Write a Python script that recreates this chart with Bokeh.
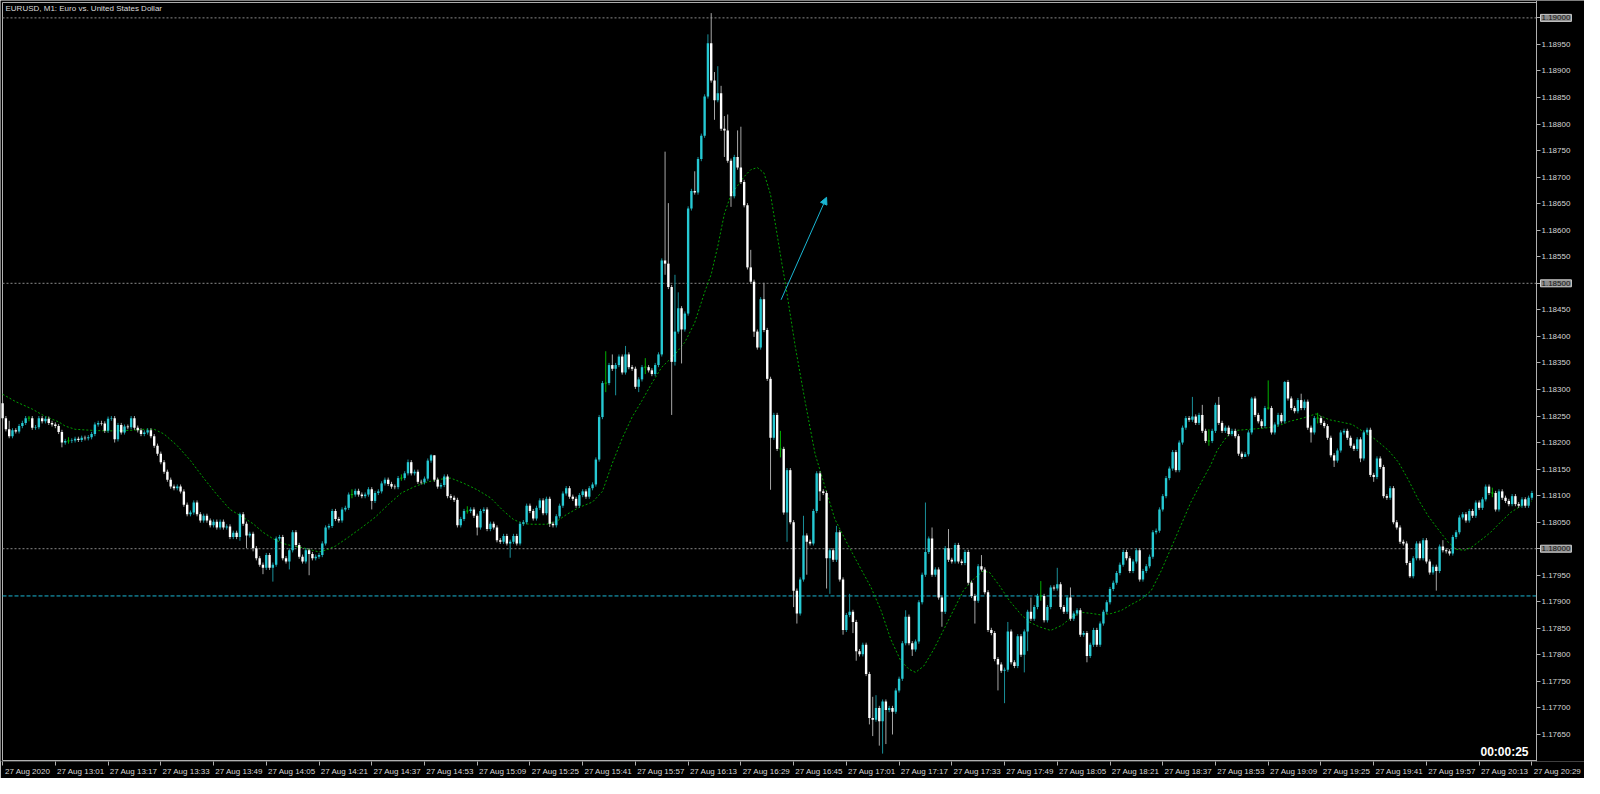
from bokeh.plotting import figure
from bokeh.models import (Range1d, FixedTicker, PrintfTickFormatter, Label, LinearAxis,
                          Arrow, NormalHead, ColumnDataSource)
from bokeh.embed import file_html
from bokeh.resources import INLINE

# ---------------- data ----------------
symbol_title = "EURUSD, M1:  Euro vs. United States Dollar"
timer_text = "00:00:25"

PRICE_BASE = 1.17000   # prices below are in points (0.00001) above this base
POINT = 0.00001

first_open = 1274
# closes, one per M1 bar, bar 0 = 12:45
closes_1245 = [1246, 1225, 1212, 1223, 1221, 1231, 1237, 1246, 1246, 1228,
               1229, 1246, 1240, 1245, 1237, 1234, 1231, 1220, 1200, 1203,
               1203, 1204, 1207, 1205, 1209, 1208, 1210, 1216, 1234, 1237,
               1236, 1222, 1245, 1246, 1206, 1233, 1219, 1230, 1229, 1246,
               1228, 1223, 1216, 1219, 1223, 1212, 1194, 1179, 1163, 1145,
               1130, 1117, 1114, 1117, 1108, 1083, 1065, 1068, 1087, 1065,
               1053, 1062, 1053, 1044, 1051, 1040, 1051, 1040, 1042, 1022,
               1030, 1022, 1065, 1047, 1025, 1028, 1001]
closes_1402 = [982, 970, 964, 988, 964, 970, 1019, 1022, 982, 976,
               997, 1031, 1007, 985, 976, 997, 990, 982, 985, 988,
               1010, 1040, 1043, 1071, 1056, 1053, 1074, 1077, 1102, 1102,
               1109, 1102, 1099, 1102, 1112, 1090, 1105, 1108, 1123, 1130,
               1122, 1117, 1116, 1133, 1133, 1142, 1163, 1142, 1145, 1126,
               1125, 1132, 1166, 1176, 1130, 1117, 1120, 1136, 1099, 1096,
               1092, 1044, 1056, 1071, 1071, 1074, 1062, 1040, 1071, 1074,
               1037, 1047, 1040, 1016, 1013, 1024, 1010, 1013, 1024]
closes_1541 = [1010, 1047, 1050, 1081, 1071, 1057, 1077, 1091, 1067, 1094,
               1047, 1044, 1061, 1081, 1104, 1114, 1098, 1094, 1081, 1101,
               1108, 1098, 1114, 1121, 1168, 1248, 1312, 1312, 1346, 1339,
               1346, 1362, 1332, 1366, 1342, 1339, 1305, 1319, 1342, 1342,
               1336, 1329, 1346, 1366, 1543, 1537, 1493, 1352, 1409, 1453,
               1413, 1443, 1641, 1674, 1671, 1734, 1778, 1852, 1952, 1882,
               1845, 1858, 1791, 1788, 1731, 1664, 1738, 1718, 1691, 1647,
               1530, 1503, 1409, 1379, 1470]
closes_1656 = [1412, 1320, 1209, 1252, 1188, 1188, 1068, 1148, 1050, 921,
               878, 942, 1025, 1013, 1010, 1071, 1142, 1108, 1105, 982,
               997, 979, 1031, 942, 847, 875, 881, 862, 807, 801,
               819, 764, 681, 678, 700, 675, 712, 696, 700, 693,
               733, 755, 822, 872, 822, 810, 825, 899, 951, 994,
               1019, 951, 961, 908, 881, 1001, 979, 976, 1007, 976,
               973, 994, 936, 911, 902, 967, 961, 918, 847, 841,
               792, 782, 770, 772, 844, 786, 779, 835, 800]
closes_1815 = [844, 881, 868, 890, 911, 911, 865, 890, 927, 925,
               933, 890, 881, 908, 868, 878, 884, 838, 841, 798,
               819, 847, 819, 859, 881, 899, 924, 936, 954, 970,
               994, 982, 958, 976, 997, 942, 958, 967, 985, 1031,
               1034, 1074, 1099, 1133, 1151, 1182, 1148, 1200, 1228, 1246,
               1243, 1249, 1237, 1252, 1222, 1203, 1203, 1222, 1271, 1237,
               1222, 1228, 1216, 1222, 1212, 1179, 1173, 1178, 1219, 1283,
               1252, 1240, 1231, 1265, 1265, 1219, 1234, 1252]
closes_1933 = [1240, 1314, 1283, 1265, 1259, 1280, 1265, 1277, 1228, 1219,
               1246, 1246, 1237, 1231, 1209, 1176, 1166, 1185, 1219, 1222,
               1209, 1194, 1188, 1206, 1170, 1219, 1224, 1139, 1135, 1170,
               1154, 1099, 1096, 1114, 1050, 1040, 1013, 1010, 973, 948,
               982, 1010, 982, 1016, 976, 955, 966, 958, 1004, 997,
               995, 991, 1022, 1031, 1059, 1065, 1053, 1071, 1062, 1087,
               1077, 1093, 1117, 1105, 1105, 1074, 1108, 1096, 1090, 1084,
               1099, 1084, 1081, 1093, 1081, 1096, 1105]

# wick extremes that stand out (bar index -> points)
highs_read = {0: 1280, 2: 1241, 8: 1250, 20: 1210, 34: 1250, 72: 1068, 88: 1035,
              106: 1112, 121: 1140, 123: 1168, 130: 1178, 131: 1174, 141: 1080,
              183: 1372, 185: 1366, 189: 1382, 195: 1359, 201: 1748, 202: 1651,
              204: 1516, 205: 1483, 210: 1711, 214: 1969, 215: 2009, 216: 1898,
              217: 1909, 218: 1872, 219: 1815, 220: 1818, 223: 1788, 224: 1795,
              227: 1563, 231: 1501, 236: 1222, 243: 1062, 253: 1043, 257: 915,
              264: 721, 265: 724, 274: 884, 280: 1087, 282: 1040, 287: 1037,
              297: 988, 305: 862, 312: 908, 315: 939, 320: 964, 324: 927,
              361: 1286, 364: 1271, 366: 1225, 369: 1286, 379: 1286, 384: 1317,
              389: 1316, 394: 1292, 399: 1256, 437: 1016, 452: 1115}
lows_read = {0: 1240, 8: 1240, 18: 1191, 20: 1198, 34: 1200, 72: 1015, 74: 1001,
             76: 995, 79: 952, 82: 938, 87: 961, 93: 950, 106: 1095, 112: 1074,
             121: 1128, 141: 1066, 144: 1025, 154: 983, 166: 1041, 183: 1295,
             186: 1289, 193: 1295, 195: 1329, 201: 1516, 203: 1252, 204: 1345,
             206: 1349, 216: 1808, 219: 1738, 221: 1644, 228: 1399, 233: 1111,
             236: 1172, 238: 1013, 240: 890, 241: 859, 244: 951, 248: 1090,
             250: 925, 251: 915, 255: 838, 258: 841, 259: 789, 263: 669, 264: 647,
             266: 629, 267: 614, 268: 632, 270: 650, 276: 798, 285: 853, 295: 859,
             302: 733, 304: 709, 310: 767, 311: 807, 315: 902, 329: 786, 366: 1194,
             377: 1173, 384: 1262, 397: 1200, 399: 1236, 404: 1154, 412: 1163,
             416: 1126, 427: 945, 435: 921, 452: 1097}
WICK_PTS = 4   # ordinary small wick beyond the body

# moving average (green dotted): bar index, points
ma_bar = [0, 4, 9, 13, 17, 19, 22, 27, 31, 35, 39, 43, 46, 49, 53, 57, 61, 65, 69, 73,
          76, 79, 82, 85, 88, 91, 94, 96, 98, 101, 105, 109, 113, 117, 121, 125, 129,
          133, 136, 140, 144, 148, 152, 155, 158, 161, 165, 168, 171, 175, 179, 182,
          185, 188, 191, 194, 197, 200, 204, 207, 210, 213, 215, 217, 219, 221, 223,
          225, 227, 229, 231, 233, 236.5, 237.5, 240.5, 243.5, 246.5, 249.5, 252.5,
          256.5, 260.5, 263.5, 266.5, 269.5, 272.5, 275, 277, 279.5, 282.5, 285.5,
          288.5, 291.5, 294.5, 297.5, 299.5, 302.5, 305.5, 309, 311.5, 314.5, 318,
          321.5, 324.5, 327.5, 330.5, 333.5, 336.5, 339.5, 342.5, 345.5, 348.5,
          351.5, 354.5, 357.5, 360.5, 363.5, 366.5, 368.5, 371.5, 374.5, 378.5,
          382.5, 386.5, 390.5, 394.5, 398.5, 402.5, 406.5, 409.5, 412.5, 416.5,
          420.5, 423.5, 426.5, 429.5, 432.5, 435.5, 438.5, 441, 443.5, 445.5,
          448.5, 451.5, 454.5, 457.5, 460.5, 464]
ma_pts = [1291, 1277, 1263, 1249, 1239, 1231, 1225, 1223, 1222, 1222, 1223, 1225, 1225,
          1216, 1194, 1166, 1133, 1102, 1074, 1059, 1047, 1031, 1019, 1010, 1005, 1002,
          997, 994, 997, 1005, 1022, 1040, 1059, 1083, 1105, 1117, 1126, 1131, 1133,
          1123, 1111, 1096, 1071, 1055, 1047, 1046, 1046, 1051, 1064, 1078, 1088, 1108,
          1161, 1208, 1248, 1279, 1312, 1342, 1366, 1389, 1426, 1483, 1517, 1570, 1631,
          1667, 1684, 1701, 1714, 1718, 1708, 1667, 1535, 1500, 1381, 1277, 1179, 1117,
          1056, 1007, 961, 927, 884, 829, 789, 773, 767, 779, 810, 847, 884, 921, 942,
          958, 955, 930, 902, 876, 862, 853, 846, 856, 872, 880, 878, 875, 878, 884,
          895, 905, 921, 958, 1001, 1044, 1087, 1123, 1157, 1185, 1212, 1223, 1225,
          1227, 1230, 1240, 1246, 1254, 1243, 1238, 1234, 1222, 1206, 1185, 1163, 1130,
          1093, 1062, 1037, 1013, 999, 997, 1002, 1016, 1031, 1050, 1068, 1080, 1090]

x_tick_bars = [0, 16, 32, 48, 64, 80, 96, 112, 128, 144, 160, 176, 192, 208, 224,
               240, 256, 272, 288, 304, 320, 336, 352, 368, 384, 400, 416, 432, 448, 464]
x_tick_labels = ["27 Aug 2020", "27 Aug 13:01", "27 Aug 13:17", "27 Aug 13:33",
                 "27 Aug 13:49", "27 Aug 14:05", "27 Aug 14:21", "27 Aug 14:37",
                 "27 Aug 14:53", "27 Aug 15:09", "27 Aug 15:25", "27 Aug 15:41",
                 "27 Aug 15:57", "27 Aug 16:13", "27 Aug 16:29", "27 Aug 16:45",
                 "27 Aug 17:01", "27 Aug 17:17", "27 Aug 17:33", "27 Aug 17:49",
                 "27 Aug 18:05", "27 Aug 18:21", "27 Aug 18:37", "27 Aug 18:53",
                 "27 Aug 19:09", "27 Aug 19:25", "27 Aug 19:41", "27 Aug 19:57",
                 "27 Aug 20:13", "27 Aug 20:29"]
y_tick_prices = [1.17650, 1.17700, 1.17750, 1.17800, 1.17850, 1.17900, 1.17950,
                 1.18000, 1.18050, 1.18100, 1.18150, 1.18200, 1.18250, 1.18300,
                 1.18350, 1.18400, 1.18450, 1.18500, 1.18550, 1.18600, 1.18650,
                 1.18700, 1.18750, 1.18800, 1.18850, 1.18900, 1.18950, 1.19000]
marked_levels = [1.19000, 1.18500, 1.18000]
cyan_level = 1.17911
arrow_bars = [236.2, 250.0]
arrow_prices = [1.18469, 1.18662]

# ---------------- styling / layout ----------------
BG = "#000000"
FRAME = "#b0b0b0"
TXT = "#d6d6d6"
BULL_FILL = "#26c9d3"
BULL_WICK = "#1a8f99"
BEAR_FILL = "#ffffff"
BEAR_WICK = "#a6a6a6"
DOJI = "#00b000"
MA_COLOR = "#00a000"
CYAN_LINE = "#1ab6d3"
FONT = "Liberation Sans"

W, H = 1584, 778
BOTTOM = 15                 # bottom axis panel
FRAME_H = H - BOTTOM        # data frame spans the full width, incl. price-label column
X0, X1 = -0.03, 465.4       # chart border (left / right) in bar units
Y0, Y1 = 1.17601, 1.19029   # chart border (bottom / top) in price
PX_LEFT, PX_RIGHT = 2, 1536 # chart border in pixels
PX_TOP, PX_BOT = 2, FRAME_H - 1
kx = (PX_RIGHT - PX_LEFT) / (X1 - X0)
ky = (PX_BOT - PX_TOP) / (Y1 - Y0)
x_range = Range1d(X0 - PX_LEFT / kx, X1 + (W - PX_RIGHT) / kx)
y_range = Range1d(Y0 - (FRAME_H - PX_BOT) / ky, Y1 + PX_TOP / ky)

closes = closes_1245 + closes_1402 + closes_1541 + closes_1656 + closes_1815 + closes_1933
opens = [first_open] + closes[:-1]


def price(pts):
    return PRICE_BASE + pts * POINT


bar_x, hi_y, lo_y, wick_col = [], [], [], []
body_x, body_top, body_bot, body_col = [], [], [], []
doji_x0, doji_x1, doji_y = [], [], []
for i, (o, c) in enumerate(zip(opens, closes)):
    top, bot = max(o, c), min(o, c)
    h = max(highs_read.get(i, top + WICK_PTS), top)
    l = min(lows_read.get(i, bot - WICK_PTS), bot)
    bar_x.append(i)
    hi_y.append(price(h))
    lo_y.append(price(l))
    if c > o:
        wick_col.append(BULL_WICK)
        body_x.append(i); body_top.append(price(top)); body_bot.append(price(bot))
        body_col.append(BULL_FILL)
    elif c < o:
        wick_col.append(BEAR_WICK)
        body_x.append(i); body_top.append(price(top)); body_bot.append(price(bot))
        body_col.append(BEAR_FILL)
    else:
        wick_col.append(DOJI)
        doji_x0.append(i - 0.36); doji_x1.append(i + 0.36); doji_y.append(price(c))

p = figure(width=W, height=H, x_range=x_range, y_range=y_range,
           x_axis_location="below", y_axis_location=None,
           output_backend="svg", toolbar_location=None, title=None,
           min_border_left=0, min_border_top=0, min_border_right=0, min_border_bottom=BOTTOM,
           background_fill_color=BG, border_fill_color=BG, outline_line_color=None)
p.grid.visible = False

# chart border (left, top, bottom); the right border is the price axis line
p.segment(x0=[X0, X0, X0], y0=[Y0, Y0, Y1], x1=[X0, X1, X1], y1=[Y1, Y0, Y1],
          line_color=FRAME, line_width=1)

# level lines
p.segment(x0=[X0] * len(marked_levels), y0=marked_levels,
          x1=[X1] * len(marked_levels), y1=marked_levels,
          line_color="#8a8a8a", line_dash="2 2", line_width=1)
p.segment(x0=[X0], y0=[cyan_level], x1=[X1], y1=[cyan_level],
          line_color=CYAN_LINE, line_dash="4 2", line_width=1)

# moving average
p.line(ma_bar, [price(v) for v in ma_pts], line_color=MA_COLOR, line_dash="2 2", line_width=1)

# candles
wick_src = ColumnDataSource(dict(x=bar_x, hi=hi_y, lo=lo_y, col=wick_col))
p.segment(x0="x", y0="lo", x1="x", y1="hi", line_color="col", line_width=1, source=wick_src)
body_src = ColumnDataSource(dict(x=body_x, top=body_top, bot=body_bot, col=body_col))
p.vbar(x="x", top="top", bottom="bot", width=0.72, fill_color="col", line_color=None,
       source=body_src)
p.segment(x0=doji_x0, y0=doji_y, x1=doji_x1, y1=doji_y, line_color=DOJI, line_width=1)

# arrow object
p.add_layout(Arrow(end=NormalHead(size=7, fill_color=CYAN_LINE, line_color=CYAN_LINE),
                   x_start=arrow_bars[0], y_start=arrow_prices[0],
                   x_end=arrow_bars[1], y_end=arrow_prices[1],
                   line_color=CYAN_LINE, line_width=1))

# time axis
NB = "\u00a0"
xa = p.xaxis[0]
xa.ticker = FixedTicker(ticks=x_tick_bars, minor_ticks=[])
xa.major_label_overrides = {b: (NB * (2 if k == 0 else 23)) + t
                            for k, (b, t) in enumerate(zip(x_tick_bars, x_tick_labels))}
xa.axis_line_color = None

# price axis, drawn on the chart's right border
ya = LinearAxis(fixed_location=X1, ticker=FixedTicker(ticks=y_tick_prices, minor_ticks=[]),
                formatter=PrintfTickFormatter(format="%.5f"))
p.add_layout(ya, "right")
ya.axis_line_color = FRAME

for ax in (xa, ya):
    ax.major_tick_line_color = FRAME
    ax.major_tick_out = 4
    ax.major_tick_in = 0
    ax.minor_tick_out = 0
    ax.minor_tick_in = 0
    ax.major_label_text_color = TXT
    ax.major_label_text_font = FONT
    ax.major_label_text_font_size = "8px"
    ax.major_label_standoff = 1

# highlighted price labels for the level lines
for lv in marked_levels:
    p.add_layout(Label(x=X1, y=lv, x_offset=4, text=f"{lv:.5f}", text_font=FONT,
                       text_font_size="8px", text_color="#141414", text_align="left",
                       text_baseline="middle", background_fill_color="#8c8c8c",
                       border_line_color="#cfcfcf", padding=1))

p.add_layout(Label(x=X0, y=Y1, x_offset=3, y_offset=-2, text=symbol_title, text_font=FONT,
                   text_font_size="8px", text_color="#dcdcdc", text_baseline="top"))
p.add_layout(Label(x=X1, y=Y0, x_offset=-8, y_offset=9, text=timer_text, text_font=FONT,
                   text_font_size="12px", text_font_style="bold", text_color="#ffffff",
                   text_align="right", text_baseline="alphabetic"))

open("out.html", "w").write(file_html(p, INLINE))
